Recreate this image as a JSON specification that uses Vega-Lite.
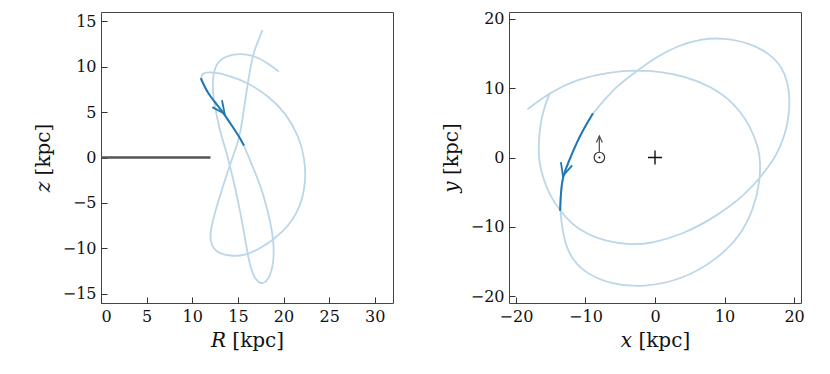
{
  "$schema": "https://vega.github.io/schema/vega-lite/v6.json",
  "background": "white",
  "padding": {"left": 32, "top": 10, "right": 5, "bottom": 5},
  "spacing": 46,
  "config": {
    "view": {"stroke": "#444", "strokeWidth": 1},
    "axis": {
      "domain": false, "grid": false, "ticks": true, "tickSize": -6, "tickColor": "#333", "tickWidth": 1,
      "labelFont": "DejaVu Serif", "labelFontSize": 16, "labelColor": "#111", "labelPadding": 11,
      "titleFont": "DejaVu Serif", "titleFontSize": 20, "titleFontWeight": "normal", "titleColor": "#111", "titlePadding": 6
    }
  },
  "datasets": {
    "rz": [
      {"g": "disk", "k": 1, "R": 0, "z": 0},
      {"g": "disk", "k": 2, "R": 12, "z": 0},
      {"g": "orbit", "k": 1, "R": 17.69, "z": 14.0},
      {"g": "orbit", "k": 2, "R": 17.3, "z": 13.0},
      {"g": "orbit", "k": 3, "R": 16.96, "z": 12.18},
      {"g": "orbit", "k": 4, "R": 16.6, "z": 11.08},
      {"g": "orbit", "k": 5, "R": 16.2, "z": 8.9},
      {"g": "orbit", "k": 6, "R": 15.87, "z": 6.71},
      {"g": "orbit", "k": 7, "R": 15.5, "z": 4.16},
      {"g": "orbit", "k": 8, "R": 15.13, "z": 1.97},
      {"g": "orbit", "k": 9, "R": 14.4, "z": 0.0},
      {"g": "orbit", "k": 10, "R": 13.49, "z": -2.77},
      {"g": "orbit", "k": 11, "R": 12.57, "z": -5.69},
      {"g": "orbit", "k": 12, "R": 11.92, "z": -8.24},
      {"g": "orbit", "k": 13, "R": 12.03, "z": -9.7},
      {"g": "orbit", "k": 14, "R": 12.94, "z": -10.61},
      {"g": "orbit", "k": 15, "R": 14.4, "z": -10.87},
      {"g": "orbit", "k": 16, "R": 15.86, "z": -10.73},
      {"g": "orbit", "k": 17, "R": 17.32, "z": -10.07},
      {"g": "orbit", "k": 18, "R": 18.97, "z": -9.0},
      {"g": "orbit", "k": 19, "R": 20.6, "z": -7.51},
      {"g": "orbit", "k": 20, "R": 21.9, "z": -5.32},
      {"g": "orbit", "k": 21, "R": 22.44, "z": -2.77},
      {"g": "orbit", "k": 22, "R": 22.35, "z": -0.2},
      {"g": "orbit", "k": 23, "R": 21.7, "z": 2.33},
      {"g": "orbit", "k": 24, "R": 20.25, "z": 4.89},
      {"g": "orbit", "k": 25, "R": 18.4, "z": 6.71},
      {"g": "orbit", "k": 26, "R": 16.2, "z": 8.17},
      {"g": "orbit", "k": 27, "R": 14.0, "z": 9.08},
      {"g": "orbit", "k": 28, "R": 11.84, "z": 9.44},
      {"g": "orbit", "k": 29, "R": 11.1, "z": 9.27},
      {"g": "orbit", "k": 30, "R": 10.93, "z": 8.72},
      {"g": "orbit", "k": 31, "R": 11.3, "z": 7.9},
      {"g": "orbit", "k": 32, "R": 11.84, "z": 6.89},
      {"g": "orbit", "k": 33, "R": 12.6, "z": 5.95},
      {"g": "orbit", "k": 34, "R": 13.3, "z": 5.07},
      {"g": "orbit", "k": 35, "R": 14.4, "z": 3.42},
      {"g": "orbit", "k": 36, "R": 15.1, "z": 2.35},
      {"g": "orbit", "k": 37, "R": 15.68, "z": 1.31},
      {"g": "orbit", "k": 38, "R": 16.59, "z": -0.95},
      {"g": "orbit", "k": 39, "R": 17.51, "z": -3.14},
      {"g": "orbit", "k": 40, "R": 18.24, "z": -5.69},
      {"g": "orbit", "k": 41, "R": 18.79, "z": -8.24},
      {"g": "orbit", "k": 42, "R": 18.97, "z": -10.07},
      {"g": "orbit", "k": 43, "R": 18.86, "z": -11.89},
      {"g": "orbit", "k": 44, "R": 18.42, "z": -13.35},
      {"g": "orbit", "k": 45, "R": 17.69, "z": -14.0},
      {"g": "orbit", "k": 46, "R": 16.96, "z": -13.53},
      {"g": "orbit", "k": 47, "R": 16.41, "z": -12.25},
      {"g": "orbit", "k": 48, "R": 16.04, "z": -10.43},
      {"g": "orbit", "k": 49, "R": 15.68, "z": -8.24},
      {"g": "orbit", "k": 50, "R": 15.13, "z": -5.32},
      {"g": "orbit", "k": 51, "R": 14.58, "z": -2.77},
      {"g": "orbit", "k": 52, "R": 14.04, "z": -0.58},
      {"g": "orbit", "k": 53, "R": 13.67, "z": 0.875},
      {"g": "orbit", "k": 54, "R": 13.3, "z": 1.97},
      {"g": "orbit", "k": 55, "R": 12.75, "z": 4.16},
      {"g": "orbit", "k": 56, "R": 12.28, "z": 6.71},
      {"g": "orbit", "k": 57, "R": 12.2, "z": 8.53},
      {"g": "orbit", "k": 58, "R": 12.57, "z": 10.36},
      {"g": "orbit", "k": 59, "R": 13.67, "z": 11.16},
      {"g": "orbit", "k": 60, "R": 15.13, "z": 11.45},
      {"g": "orbit", "k": 61, "R": 16.59, "z": 11.27},
      {"g": "orbit", "k": 62, "R": 18.06, "z": 10.54},
      {"g": "orbit", "k": 63, "R": 19.5, "z": 9.44},
      {"g": "head", "k": 1, "R": 12.2, "z": 5.54},
      {"g": "head", "k": 2, "R": 13.55, "z": 4.8},
      {"g": "head", "k": 3, "R": 13.26, "z": 6.3}
    ],
    "xy": [
      {"g": "orbit", "k": 1, "x": -15.09, "y": 9.38},
      {"g": "orbit", "k": 2, "x": -16.05, "y": 6.97},
      {"g": "orbit", "k": 3, "x": -16.63, "y": 4.08},
      {"g": "orbit", "k": 4, "x": -16.77, "y": 0.72},
      {"g": "orbit", "k": 5, "x": -16.6, "y": -1.0},
      {"g": "orbit", "k": 6, "x": -16.05, "y": -3.13},
      {"g": "orbit", "k": 7, "x": -15.09, "y": -5.54},
      {"g": "orbit", "k": 8, "x": -13.65, "y": -7.7},
      {"g": "orbit", "k": 9, "x": -11.96, "y": -9.62},
      {"g": "orbit", "k": 10, "x": -9.8, "y": -11.07},
      {"g": "orbit", "k": 11, "x": -6.92, "y": -12.12},
      {"g": "orbit", "k": 12, "x": -3.5, "y": -12.6},
      {"g": "orbit", "k": 13, "x": -0.68, "y": -12.45},
      {"g": "orbit", "k": 14, "x": 4.12, "y": -11.07},
      {"g": "orbit", "k": 15, "x": 8.93, "y": -8.43},
      {"g": "orbit", "k": 16, "x": 12.77, "y": -5.54},
      {"g": "orbit", "k": 17, "x": 15.17, "y": -2.89},
      {"g": "orbit", "k": 18, "x": 17.09, "y": -0.25},
      {"g": "orbit", "k": 19, "x": 17.9, "y": 1.3},
      {"g": "orbit", "k": 20, "x": 18.78, "y": 3.6},
      {"g": "orbit", "k": 21, "x": 19.25, "y": 6.0},
      {"g": "orbit", "k": 22, "x": 19.4, "y": 8.41},
      {"g": "orbit", "k": 23, "x": 19.1, "y": 10.82},
      {"g": "orbit", "k": 24, "x": 18.3, "y": 12.99},
      {"g": "orbit", "k": 25, "x": 16.61, "y": 14.9},
      {"g": "orbit", "k": 26, "x": 13.73, "y": 16.5},
      {"g": "orbit", "k": 27, "x": 9.88, "y": 17.3},
      {"g": "orbit", "k": 28, "x": 6.53, "y": 17.1},
      {"g": "orbit", "k": 29, "x": 3.17, "y": 16.1},
      {"g": "orbit", "k": 30, "x": 0.0, "y": 14.4},
      {"g": "orbit", "k": 31, "x": -2.6, "y": 12.5},
      {"g": "orbit", "k": 32, "x": -5.48, "y": 10.33},
      {"g": "orbit", "k": 33, "x": -7.4, "y": 8.17},
      {"g": "orbit", "k": 34, "x": -8.93, "y": 6.39},
      {"g": "orbit", "k": 35, "x": -10.29, "y": 4.08},
      {"g": "orbit", "k": 36, "x": -11.48, "y": 1.68},
      {"g": "orbit", "k": 37, "x": -12.45, "y": -0.72},
      {"g": "orbit", "k": 38, "x": -13.26, "y": -2.65},
      {"g": "orbit", "k": 39, "x": -13.55, "y": -5.05},
      {"g": "orbit", "k": 40, "x": -13.65, "y": -7.7},
      {"g": "orbit", "k": 41, "x": -13.4, "y": -9.87},
      {"g": "orbit", "k": 42, "x": -12.68, "y": -13.7},
      {"g": "orbit", "k": 43, "x": -10.29, "y": -16.6},
      {"g": "orbit", "k": 44, "x": -6.44, "y": -18.28},
      {"g": "orbit", "k": 45, "x": -1.64, "y": -18.76},
      {"g": "orbit", "k": 46, "x": 4.12, "y": -17.56},
      {"g": "orbit", "k": 47, "x": 8.93, "y": -14.68},
      {"g": "orbit", "k": 48, "x": 12.29, "y": -11.31},
      {"g": "orbit", "k": 49, "x": 14.2, "y": -7.46},
      {"g": "orbit", "k": 50, "x": 15.17, "y": -3.13},
      {"g": "orbit", "k": 51, "x": 15.1, "y": -0.25},
      {"g": "orbit", "k": 52, "x": 14.93, "y": 1.2},
      {"g": "orbit", "k": 53, "x": 13.73, "y": 4.56},
      {"g": "orbit", "k": 54, "x": 11.33, "y": 7.94},
      {"g": "orbit", "k": 55, "x": 7.97, "y": 10.33},
      {"g": "orbit", "k": 56, "x": 4.12, "y": 11.78},
      {"g": "orbit", "k": 57, "x": 0.76, "y": 12.4},
      {"g": "orbit", "k": 58, "x": -2.6, "y": 12.6},
      {"g": "orbit", "k": 59, "x": -6.44, "y": 12.35},
      {"g": "orbit", "k": 60, "x": -11.24, "y": 11.3},
      {"g": "orbit", "k": 61, "x": -15.09, "y": 9.38},
      {"g": "orbit", "k": 62, "x": -18.35, "y": 6.97},
      {"g": "head", "k": 1, "x": -13.53, "y": -0.66},
      {"g": "head", "k": 2, "x": -13.25, "y": -2.65},
      {"g": "head", "k": 3, "x": -11.91, "y": -1.15},
      {"g": "sunshaft", "k": 1, "x": -8.0, "y": 0.8},
      {"g": "sunshaft", "k": 2, "x": -8.0, "y": 3.1},
      {"g": "sunhead", "k": 1, "x": -8.43, "y": 2.15},
      {"g": "sunhead", "k": 2, "x": -8.0, "y": 3.1},
      {"g": "sunhead", "k": 3, "x": -7.57, "y": 2.15}
    ],
    "pts": [
      {"kind": "sun", "x": -8.0, "y": 0.0},
      {"kind": "center", "x": 0.0, "y": 0.0}
    ]
  },
  "hconcat": [
    {
      "width": 292,
      "height": 291,
      "data": {"name": "rz"},
      "encoding": {
        "x": {"field": "R", "type": "quantitative", "scale": {"domain": [0, 32], "nice": false, "zero": false},
              "axis": {"values": [0, 5, 10, 15, 20, 25, 30], "title": "𝑅 [kpc]"}},
        "y": {"field": "z", "type": "quantitative", "scale": {"domain": [-16, 16], "nice": false, "zero": false},
              "axis": {"values": [-15, -10, -5, 0, 5, 10, 15], "title": "𝑧 [kpc]", "titlePadding": 9}},
        "order": {"field": "k", "type": "quantitative"}
      },
      "layer": [
        {"transform": [{"filter": "datum.g === 'disk'"}], "mark": {"type": "line", "color": "#555555", "strokeWidth": 2.5}},
        {"transform": [{"filter": "datum.g === 'orbit'"}], "mark": {"type": "line", "color": "#1f77b4", "opacity": 0.3, "strokeWidth": 1.8, "interpolate": "basis"}},
        {"transform": [{"filter": "datum.g === 'orbit' && datum.k >= 30 && datum.k <= 37"}], "mark": {"type": "line", "color": "#1f77b4", "strokeWidth": 2, "interpolate": "basis"}},
        {"transform": [{"filter": "datum.g === 'head'"}], "mark": {"type": "line", "color": "#1f77b4", "strokeWidth": 1.8}}
      ]
    },
    {
      "width": 292,
      "height": 291,
      "layer": [
        {
          "data": {"name": "xy"},
          "encoding": {
            "x": {"field": "x", "type": "quantitative", "scale": {"domain": [-21, 21], "nice": false, "zero": false},
                  "axis": {"values": [-20, -10, 0, 10, 20], "title": "𝑥 [kpc]"}},
            "y": {"field": "y", "type": "quantitative", "scale": {"domain": [-21, 21], "nice": false, "zero": false},
                  "axis": {"values": [-20, -10, 0, 10, 20], "title": "𝑦 [kpc]", "titlePadding": 9}},
            "order": {"field": "k", "type": "quantitative"},
            "detail": {"field": "g", "type": "nominal"}
          },
          "layer": [
            {"transform": [{"filter": "datum.g === 'orbit'"}], "mark": {"type": "line", "color": "#1f77b4", "opacity": 0.3, "strokeWidth": 1.8, "interpolate": "basis"}},
            {"transform": [{"filter": "datum.g === 'orbit' && datum.k >= 34 && datum.k <= 40"}], "mark": {"type": "line", "color": "#1f77b4", "strokeWidth": 2, "interpolate": "basis"}},
            {"transform": [{"filter": "datum.g === 'head'"}], "mark": {"type": "line", "color": "#1f77b4", "strokeWidth": 1.8}},
            {"transform": [{"filter": "datum.g === 'sunshaft' || datum.g === 'sunhead'"}], "mark": {"type": "line", "color": "#555555", "strokeWidth": 1.3}}
          ]
        },
        {
          "data": {"name": "pts"},
          "transform": [{"filter": "datum.kind === 'sun'"}],
          "mark": {"type": "point", "shape": "circle", "filled": false, "size": 110, "color": "#333333", "strokeWidth": 1.2, "opacity": 1},
          "encoding": {"x": {"field": "x", "type": "quantitative"}, "y": {"field": "y", "type": "quantitative"}}
        },
        {
          "data": {"name": "pts"},
          "transform": [{"filter": "datum.kind === 'sun'"}],
          "mark": {"type": "point", "shape": "circle", "filled": true, "size": 5, "color": "#222222", "opacity": 1},
          "encoding": {"x": {"field": "x", "type": "quantitative"}, "y": {"field": "y", "type": "quantitative"}}
        },
        {
          "data": {"name": "pts"},
          "transform": [{"filter": "datum.kind === 'center'"}],
          "mark": {"type": "point", "shape": "M-1,0L1,0M0,-1L0,1", "filled": false, "size": 196, "color": "#111111", "strokeWidth": 1.4, "opacity": 1},
          "encoding": {"x": {"field": "x", "type": "quantitative"}, "y": {"field": "y", "type": "quantitative"}}
        }
      ]
    }
  ]
}
